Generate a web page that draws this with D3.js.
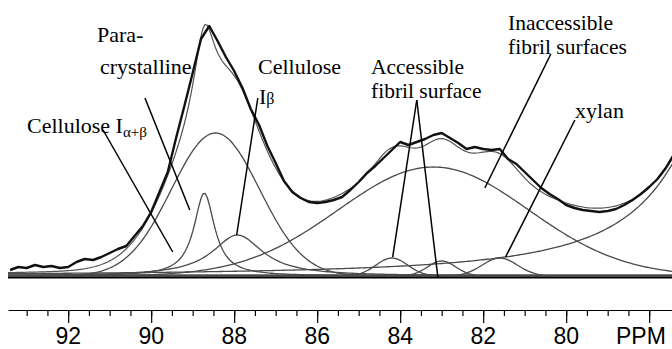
<!DOCTYPE html>
<html>
<head>
<meta charset="utf-8">
<script src="https://cdn.jsdelivr.net/npm/d3@7"></script>
<style>
  body { margin: 0; background: #fff; }
  svg { display: block; }
</style>
</head>
<body>
<div id="chart"></div>
<script>
const specStart = 93.4;
const specStep = 0.2;
const specValues = [
  6, 9, 8, 11, 9, 10, 8, 9, 14, 17,
  16, 19, 23, 27, 30, 40, 50, 64, 84, 104,
  138, 170, 203, 237, 250, 235, 219, 205, 188, 167,
  151, 130, 113, 95, 84, 78, 74, 73, 74, 76,
  79, 86, 94, 103, 110, 118, 126, 134, 131, 134,
  137, 141, 143, 138, 133, 127, 129, 127, 126, 127,
  117, 112, 104, 96, 88, 82, 77, 71, 68, 66,
  65, 64, 65, 67, 71, 76, 82, 89, 97, 108,
  122
];

// fitted components (centre ppm, height, half width, line shape)
const peakNames   = ['Cellulose Ia+b', 'Para-crystalline', 'Cellulose Ib', 'Accessible 1', 'Accessible 2', 'Inaccessible', 'xylan', 'C2,3,5 tail'];
const peakCenters = [88.72, 88.45, 87.92, 84.2, 83.0, 83.2, 81.6, 75.2];
const peakHeights = [83, 143, 41, 18, 15, 109, 18, 400];
const peakWidths  = [0.3, 1.25, 0.74, 0.45, 0.4, 2.7, 0.5, 1.4];
const peakShapes  = ['L', 'G', 'L', 'G', 'G', 'G', 'G', 'L'];

const majorTicks = [92, 90, 88, 86, 84, 82, 80, 78];
const tickLabels = ['92', '90', '88', '86', '84', '82', '80'];
const unitLabel = 'PPM';
const minorTicks = d3.range(93, 77.9, -0.5);

const width = 672, height = 349;

const x = d3.scaleLinear().domain([93.45, 77.45]).range([8, 672]);
const y = d3.scaleLinear().domain([0, 260]).range([276, 16]);

const svg = d3.select('#chart').append('svg')
  .attr('width', width)
  .attr('height', height);

function shape(i, p) {
  const d = (p - peakCenters[i]) / peakWidths[i];
  if (peakShapes[i] === 'L') return peakHeights[i] / (1 + d * d);
  return peakHeights[i] * Math.exp(-Math.LN2 * d * d);
}

const grid = d3.range(93.45, 77.44, -0.05);
const line = d3.line().x(d => x(d[0])).y(d => y(d[1]));

// baseline band
svg.append('line')
  .attr('x1', x(93.45)).attr('x2', x(77.45))
  .attr('y1', y(0) + 0.5).attr('y2', y(0) + 0.5)
  .attr('stroke', '#000')
  .attr('stroke-width', 4);

// components
peakNames.forEach((name, i) => {
  svg.append('path')
    .datum(grid.map(p => [p, shape(i, p)]))
    .attr('d', line)
    .attr('fill', 'none')
    .attr('stroke', '#4a4a4a')
    .attr('stroke-width', 1.3);
});

// sum of fit
svg.append('path')
  .datum(grid.map(p => [p, d3.sum(peakNames, (n, i) => shape(i, p))]))
  .attr('d', line)
  .attr('fill', 'none')
  .attr('stroke', '#555')
  .attr('stroke-width', 1.2);

// measured spectrum
svg.append('path')
  .datum(specValues.map((v, i) => [specStart - i * specStep, v]))
  .attr('d', line)
  .attr('fill', 'none')
  .attr('stroke', '#111')
  .attr('stroke-width', 2.4)
  .attr('stroke-linejoin', 'round');

// leader lines, in ppm / intensity
const leaders = [
  [[91.16, 146], [89.48, 24]],
  [[90.15, 178], [89.07, 66]],
  [[87.43, 178], [87.94, 41]],
  [[83.6, 176], [84.18, 19]],
  [[83.6, 176], [83.09, -2]],
  [[80.37, 222], [81.96, 88]],
  [[79.79, 156], [81.46, 19]]
];
svg.selectAll('.leader')
  .data(leaders)
  .enter()
  .append('line')
  .attr('x1', d => x(d[0][0]))
  .attr('y1', d => y(d[0][1]))
  .attr('x2', d => x(d[1][0]))
  .attr('y2', d => y(d[1][1]))
  .attr('stroke', '#000')
  .attr('stroke-width', 1.5);

// labels
const serif = 'Liberation Serif, Times New Roman, serif';
function label(tx, ty, txt, size) {
  return svg.append('text')
    .attr('x', tx).attr('y', ty)
    .attr('font-family', serif)
    .attr('font-size', size || 22)
    .attr('fill', '#000')
    .text(txt);
}
label(97, 42, 'Para-');
label(100, 74, 'crystalline');
label(258, 74, 'Cellulose');
const ib = label(259, 104, 'I');
ib.append('tspan').attr('font-size', 16).text('β');
const iab = label(27, 133, 'Cellulose I');
iab.append('tspan').attr('font-size', 15).attr('dy', 4).text('α+β');
label(371, 74, 'Accessible', 21.5);
label(371, 98, 'fibril surface', 21.5);
label(508, 30, 'Inaccessible', 21.5);
label(508, 54, 'fibril surfaces', 21.5);
label(575, 118, 'xylan');

// axis
const axisY = 310;
svg.append('g')
  .attr('transform', `translate(0,${axisY})`)
  .call(d3.axisBottom(x).tickValues(minorTicks).tickSize(6).tickSizeOuter(0).tickFormat(''))
  .call(g => g.selectAll('line').attr('stroke', '#000').attr('stroke-width', 1.2))
  .call(g => g.select('.domain').attr('stroke', '#000').attr('stroke-width', 1.2));

svg.append('g')
  .attr('transform', `translate(0,${axisY})`)
  .call(d3.axisBottom(x).tickValues(majorTicks).tickSize(13).tickFormat(''))
  .call(g => g.select('.domain').remove())
  .call(g => g.selectAll('line').attr('stroke', '#000').attr('stroke-width', 1.2));

const sans = 'Liberation Sans, Arial, sans-serif';
svg.append('g')
  .selectAll('text')
  .data(tickLabels)
  .enter()
  .append('text')
  .attr('x', (d, i) => x(majorTicks[i]))
  .attr('y', 344)
  .attr('text-anchor', 'middle')
  .attr('font-family', sans)
  .attr('font-size', 23)
  .attr('fill', '#000')
  .text(d => d);

svg.append('text')
  .attr('x', x(78.2))
  .attr('y', 344)
  .attr('text-anchor', 'middle')
  .attr('font-family', sans)
  .attr('font-size', 23)
  .attr('fill', '#000')
  .text(unitLabel);
</script>
</body>
</html>
